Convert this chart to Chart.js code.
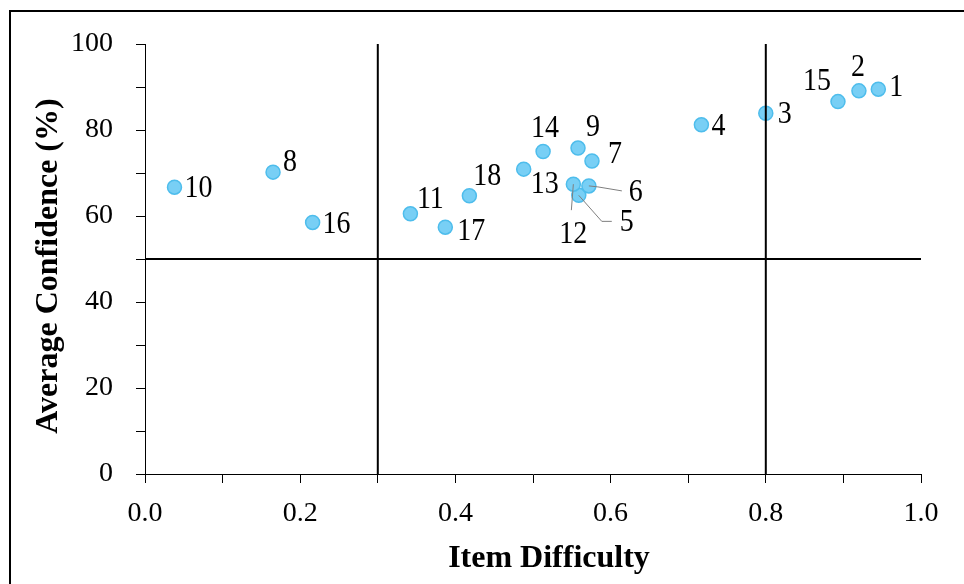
<!DOCTYPE html>
<html>
<head>
<meta charset="utf-8">
<title>Item Difficulty vs Average Confidence</title>
<script src="https://cdn.jsdelivr.net/npm/chart.js@4.4.1/dist/chart.umd.min.js"></script>
<style>
  html, body { margin: 0; padding: 0; background: #fff; overflow: hidden; }
  #wrap { position: relative; width: 964px; height: 584px; }
  #frame { position: absolute; left: 9px; top: 10px; width: 1000px; height: 1000px;
           border: 2px solid #000; pointer-events: none; }
  canvas { position: absolute; left: 0; top: 0; }
</style>
</head>
<body>
<div id="wrap">
  <canvas id="chart" width="964" height="584"></canvas>
  <div id="frame"></div>
</div>
<script>
// Item numbers with their difficulty (proportion correct) and average confidence (%)
const itemIds        = [1, 2, 3, 4, 5, 6, 7, 8, 9, 10, 11, 12, 13, 14, 15, 16, 17, 18];
const itemDifficulty = [0.945, 0.920, 0.800, 0.717, 0.559, 0.572, 0.576, 0.165, 0.558, 0.038,
                        0.342, 0.552, 0.488, 0.513, 0.893, 0.216, 0.387, 0.418];
const avgConfidence  = [89.5, 89.1, 83.9, 81.2, 64.8, 67.0, 72.8, 70.2, 75.8, 66.7,
                        60.5, 67.4, 70.9, 75.0, 86.6, 58.5, 57.4, 64.7];

// Axis ranges and quadrant cut-offs
const xRange = [0, 1];
const yRange = [0, 100];
const difficultyCutoffs = [0.3, 0.8];
const confidenceCutoff = 50;

// Label placement around each point (label centre offset in px), plus leader lines
const labelOffsets = {
  1: [18, -2], 2: [-1, -24], 3: [19, 1], 4: [17, 1], 5: [48, 27], 6: [47, 6],
  7: [23, -7], 8: [17, -10], 9: [15, -21], 10: [24, 1], 11: [20, -15], 12: [0, 50],
  13: [21, 15], 14: [2, -24], 15: [-21, -21], 16: [24, 1], 17: [26, 4], 18: [18, -20]
};
const leaders = {
  12: [[0, 0], [-2, 26]],
  5:  [[0, 0], [23, 26], [33, 26]],
  6:  [[0, 0], [9, 1], [33, 5]]
};

const points = itemIds.map((id, i) => ({ x: itemDifficulty[i], y: avgConfidence[i], id }));

const cutoffLines = [
  ...difficultyCutoffs.map(v => [{ x: v, y: yRange[0] }, { x: v, y: yRange[1] }]),
  [{ x: xRange[0], y: confidenceCutoff }, { x: xRange[1], y: confidenceCutoff }]
].map(data => ({
  data, showLine: true, borderColor: '#000', borderWidth: 2,
  pointRadius: 0, fill: false, order: 0
}));

const serif = "'Liberation Serif', 'Times New Roman', serif";

const pointLabels = {
  id: 'pointLabels',
  afterDatasetsDraw(chart) {
    const ctx = chart.ctx;
    const meta = chart.getDatasetMeta(0);
    ctx.save();
    meta.data.forEach((el, i) => {
      const id = itemIds[i];
      const px = el.x, py = el.y;
      if (leaders[id]) {
        ctx.beginPath();
        ctx.strokeStyle = '#7f7f7f';
        ctx.lineWidth = 1;
        leaders[id].forEach(([dx, dy], k) => {
          if (k === 0) ctx.moveTo(px + dx, py + dy); else ctx.lineTo(px + dx, py + dy);
        });
        ctx.stroke();
      }
      const [ox, oy] = labelOffsets[id];
      ctx.save();
      ctx.translate(px + ox, py + oy + 1);
      ctx.scale(1, 1.1);
      ctx.fillStyle = '#000';
      ctx.font = '28px ' + serif;
      ctx.textAlign = 'center';
      ctx.textBaseline = 'middle';
      ctx.fillText(String(id), 0, 0);
      ctx.restore();
    });
    ctx.restore();
  }
};

const axisTitles = {
  id: 'axisTitles',
  afterDraw(chart) {
    const ctx = chart.ctx;
    const a = chart.chartArea;
    ctx.save();
    ctx.fillStyle = '#000';
    ctx.font = 'bold 32px ' + serif;
    ctx.textAlign = 'center';
    ctx.textBaseline = 'alphabetic';
    ctx.fillText('Item Difficulty', (a.left + a.right) / 2 + 16, 567);
    ctx.translate(57, (a.top + a.bottom) / 2 + 7);
    ctx.rotate(-Math.PI / 2);
    ctx.fillText('Average Confidence (%)', 0, 0);
    ctx.restore();
  }
};

new Chart(document.getElementById('chart'), {
  type: 'scatter',
  data: {
    datasets: [
      {
        data: points,
        backgroundColor: 'rgb(120, 207, 245)',
        borderColor: 'rgb(78, 189, 236)',
        borderWidth: 1.5,
        pointRadius: 7,
        order: 1
      },
      ...cutoffLines
    ]
  },
  options: {
    responsive: false,
    devicePixelRatio: 1,
    animation: false,
    layout: { padding: { left: 0, top: 44, right: 43, bottom: 0 } },
    plugins: { legend: { display: false }, tooltip: { enabled: false } },
    scales: {
      x: {
        type: 'linear',
        min: xRange[0], max: xRange[1],
        afterFit(s) { s.height = 110; },
        border: { display: true, color: '#000', width: 1 },
        grid: { drawOnChartArea: false, drawTicks: true, tickLength: 9, tickColor: '#000', color: '#000' },
        ticks: {
          stepSize: 0.1,
          padding: 14,
          color: '#000',
          font: { family: serif, size: 28 },
          maxRotation: 0,
          autoSkip: false,
          callback: v => (Math.round(v * 10) % 2 === 0 ? v.toFixed(1) : '')
        }
      },
      y: {
        type: 'linear',
        min: yRange[0], max: yRange[1],
        afterFit(s) { s.width = 145; },
        border: { display: true, color: '#000', width: 1 },
        grid: { drawOnChartArea: false, drawTicks: true, tickLength: 9, tickColor: '#000', color: '#000' },
        ticks: {
          stepSize: 10,
          padding: 23,
          color: '#000',
          font: { family: serif, size: 28 },
          autoSkip: false,
          callback: v => (v % 20 === 0 ? String(v) : '')
        }
      }
    }
  },
  plugins: [pointLabels, axisTitles]
});
</script>
</body>
</html>
